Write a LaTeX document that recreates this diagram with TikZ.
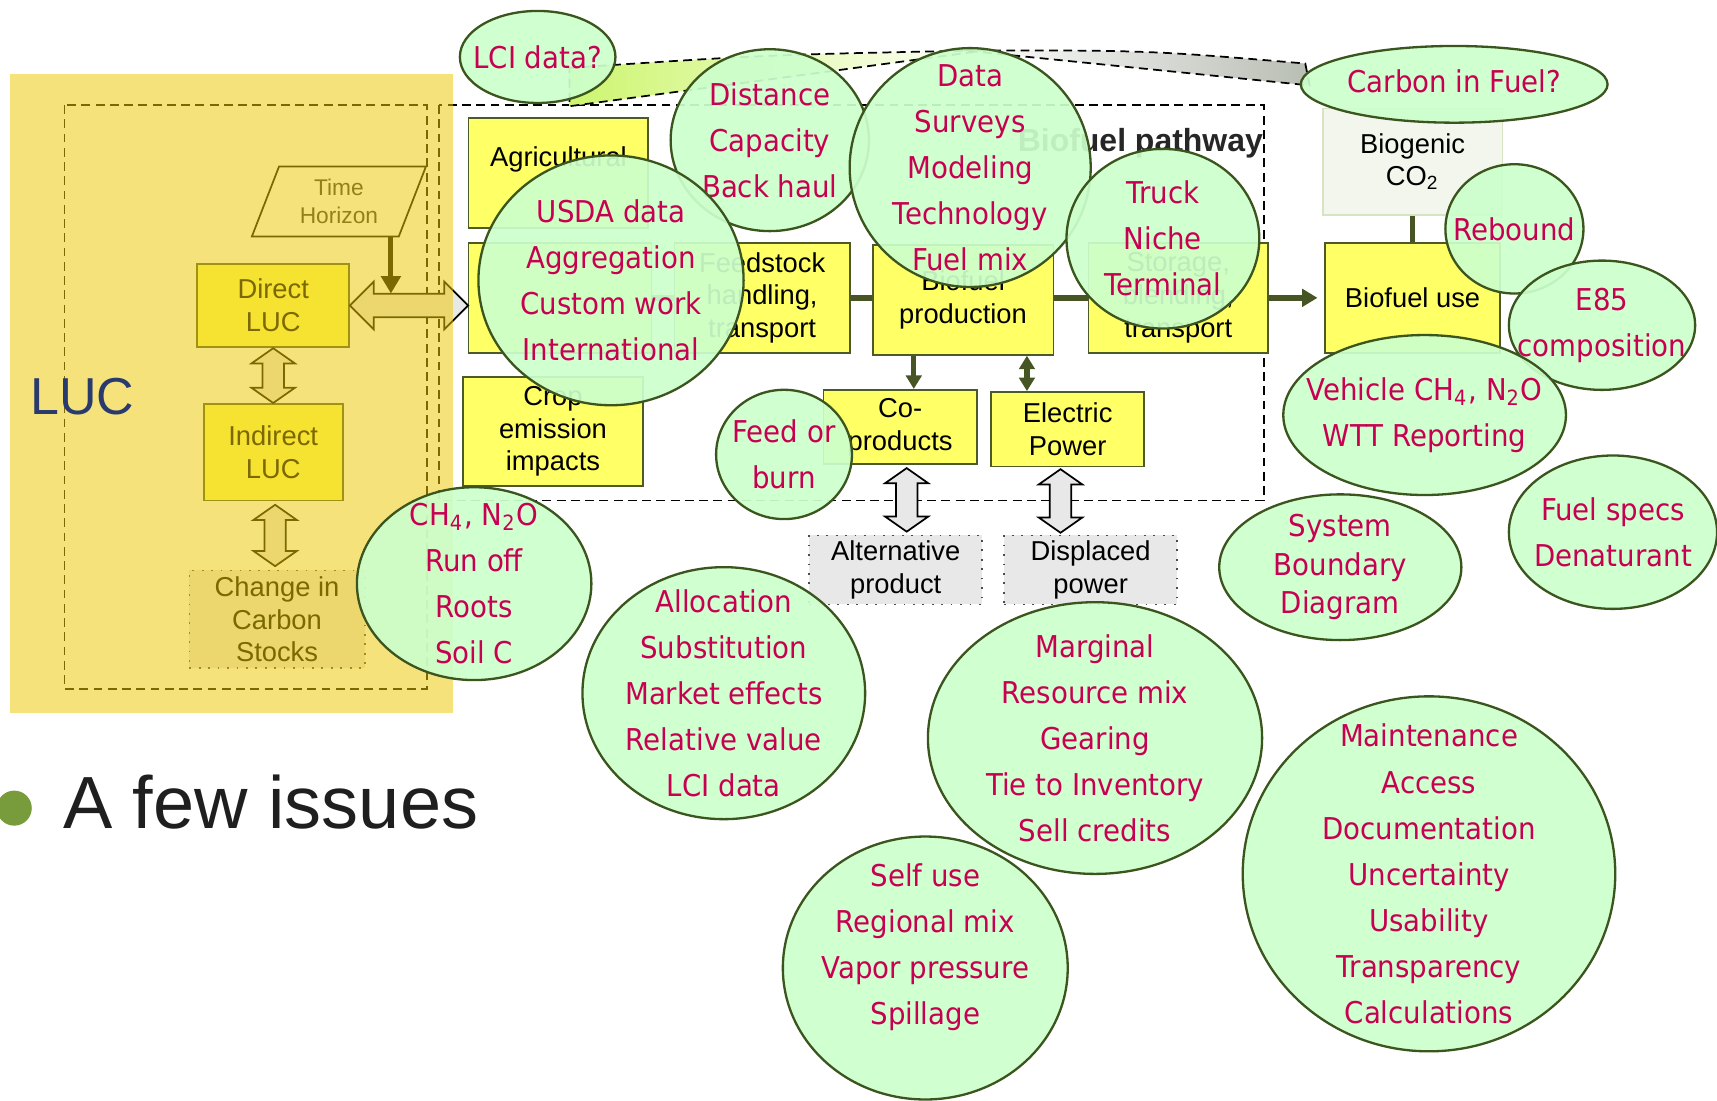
\documentclass[tikz,border=0pt]{standalone}
\usepackage{fontspec}
\setmainfont{Liberation Sans}
\newfontfamily\issuefont[FakeStretch=0.92]{DejaVu Sans}
\usetikzlibrary{shapes.geometric,shapes.arrows,arrows.meta,calc}

\definecolor{boxfill}{RGB}{255,255,102}
\definecolor{boxline}{RGB}{75,90,40}
\definecolor{flowline}{RGB}{70,85,35}
\definecolor{altfill}{RGB}{232,232,232}
\definecolor{lucwash}{RGB}{238,200,0}
\definecolor{lucblue}{RGB}{40,58,110}
\definecolor{bubblefill}{RGB}{204,255,204}
\definecolor{bubbleline}{RGB}{60,85,30}
\definecolor{issuered}{RGB}{200,0,82}
\definecolor{biofill}{RGB}{243,246,237}
\definecolor{bioline}{RGB}{215,228,195}
\definecolor{bulletgreen}{RGB}{120,155,60}
\definecolor{lcigreen}{RGB}{205,245,110}
\definecolor{carbongray}{RGB}{185,190,180}

\tikzset{
  stage/.style={draw=boxline, fill=boxfill, line width=0.45pt, align=center, inner sep=0pt,
    font=\fontsize{7.1}{8.5}\selectfont},
  altstage/.style={stage, draw=black!70, fill=altfill, dotted},
  dashframe/.style={draw=black, line width=0.45pt, dash pattern=on 2.3pt off 1.4pt},
  pathflow/.style={draw=flowline, line width=1.4pt},
  fatarrow/.style={double arrow, draw=black, fill=altfill, line width=0.45pt, inner xsep=0pt,
    inner ysep=0.09cm, minimum width=0pt, double arrow head extend=0.1cm, double arrow tip angle=110},
  bubble/.style={ellipse, draw=bubbleline, line width=0.6pt, fill=bubblefill, fill opacity=0.92, inner sep=0pt},
  issue/.style={text=issuered, align=center, inner sep=0pt, font=\issuefont\fontsize{7.8}{11.95}\selectfont}
}

\begin{document}
\begin{tikzpicture}[x=0.01cm, y=-0.01cm]
\useasboundingbox (0,0) rectangle (1568,1005);

% Draws the dashed frame of the biofuel pathway and its title
\draw[dashframe] (401,96) rectangle (1154,457);
\node[anchor=east, inner sep=0pt, font=\bfseries\fontsize{8.3}{10}\selectfont, text=black!85] (pathtitle) at (1154,131) {Biofuel pathway};

% Draws the stages of the pathway
\node[stage, minimum width=1.64cm, minimum height=1cm] (agri) at (510,158) {Agricultural\\~};
\node[stage, minimum width=1.67cm, minimum height=1cm] (farm) at (511.5,272) {};
\node[stage, minimum width=1.60cm, minimum height=1cm] (feed) at (696,272) {Feedstock\\handling,\\transport};
\node[stage, minimum width=1.64cm, minimum height=1cm] (crop) at (505,394) {Crop\\emission\\impacts};
\node[stage, minimum width=1.65cm, minimum height=1cm] (prod) at (879.5,274) {Biofuel\\production};
\node[stage, minimum width=1.64cm, minimum height=1cm] (stor) at (1076,272) {Storage,\\blending,\\transport};
\node[stage, minimum width=1.60cm, minimum height=1cm] (use) at (1290,272) {Biofuel use};
\node[stage, draw=bioline, fill=biofill, minimum width=1.64cm, minimum height=0.97cm] (bio) at (1290,147.5) {Biogenic\\CO\textsubscript{2}};
\node[stage, minimum width=1.40cm, minimum height=0.68cm] (copro) at (822,390) {Co-\\products};
\node[stage, minimum width=1.40cm, minimum height=0.68cm] (elec) at (975,392) {Electric\\Power};
\node[altstage, minimum width=1.58cm, minimum height=0.63cm] (alt) at (818,520.5) {Alternative\\product};
\node[altstage, minimum width=1.58cm, minimum height=0.63cm] (disp) at (996,520.5) {Displaced\\power};

% Links the stages along the main line
\draw[pathflow] (farm.east) -- (farm.east -| feed.west);
\draw[pathflow] (feed.east) -- (feed.east -| prod.west);
\draw[pathflow] (stor.west -| prod.east) -- (stor.west);
\draw[pathflow, -{Triangle[length=4pt,width=4.5pt]}] (stor.east) -- ($(stor.east -| use.west)+(-6,0)$);
\draw[pathflow] (bio.south) -- (use.north);
\coordinate (cotap) at ($(prod.south west)!0.23!(prod.south east)$);
\coordinate (eltap) at ($(prod.south west)!0.85!(prod.south east)$);
\draw[pathflow, -{Triangle[length=3.5pt,width=4pt]}] (cotap) -- (cotap |- copro.north);
\draw[pathflow, {Triangle[length=3.5pt,width=4pt]}-{Triangle[length=3.5pt,width=4pt]}] (eltap) -- (eltap |- elec.north);
\node[fatarrow, rotate=90, minimum height=0.58cm] (cofat) at ($(copro.south)!0.5!(alt.north)+(8,0)$) {};
\node[fatarrow, rotate=90, minimum height=0.58cm] (elfat) at ($(elec.south)!0.5!(disp.north)+(-17,0)$) {};

% Draws the land use change boxes, washed over by the LUC panel below
\draw[dashframe] (59,96) rectangle (390,629);
\node[stage, minimum width=1.39cm, minimum height=0.76cm] (dluc) at (249.5,279) {Direct\\LUC};
\node[stage, minimum width=1.27cm, minimum height=0.88cm] (iluc) at (249.5,413) {Indirect\\LUC};
\node[altstage, minimum width=1.60cm, minimum height=0.89cm] (cstock) at (253,565.5) {Change in\\Carbon\\Stocks};
\node[stage, trapezium, trapezium left angle=68, trapezium right angle=112, trapezium stretches=true,
  draw=black, fill=white, text=black!80, minimum width=1.59cm, minimum height=0.64cm,
  font=\fontsize{5.9}{7.1}\selectfont] (horizon) at (309.5,184) {Time\\Horizon};
\node[fatarrow, rotate=90, minimum height=0.50cm] (dlucfat) at ($(dluc.south)!0.5!(iluc.north)$) {};
\node[fatarrow, rotate=90, minimum height=0.56cm] (ilucfat) at ($(iluc.south)!0.5!(cstock.north)$) {};
\node[fatarrow, minimum height=1.08cm, inner ysep=0.1cm, double arrow head extend=0.11cm,
  double arrow tip angle=90] (farmfat) at ($(dluc.east)!0.5!(dluc.east -| farm.west)$) {};
\coordinate (horizonfoot) at (357,268);
\draw[-{Triangle[length=4.5pt,width=5pt]}, line width=1.3pt] (horizon.south -| horizonfoot) -- (horizonfoot);

% The LUC panel
\fill[lucwash, fill opacity=0.52] (9,68) rectangle (414,651);
\node[font=\fontsize{13.5}{16}\selectfont, text=lucblue] (luc) at (75,362) {LUC};

% Bullet line
\node[circle, fill=bulletgreen, minimum size=0.32cm, inner sep=0pt] (dot) at (13,738) {};
\node[anchor=base west, inner sep=0pt, font=\fontsize{19.2}{23}\selectfont, text=black!88] (issues) at (57,757) {A few issues};

% Callout tails of the two questions at the top
\draw[dashframe, left color=lcigreen, right color=white] (520,62) .. controls (700,50) .. (900,46) -- (520,97) -- cycle;
\draw[dashframe, left color=white, right color=carbongray] (880,46) .. controls (1050,46) .. (1192,58) -- (1196,78) -- cycle;

% Draws the issue bubbles
\node[bubble, minimum width=1.42cm, minimum height=0.84cm] (lci) at (491,52) {};
\node[issue] at (lci) {LCI data?};
\node[bubble, minimum width=2.80cm, minimum height=0.70cm] (carbon) at (1328,77) {};
\node[issue] at ($(carbon)+(0,-3)$) {Carbon in Fuel?};
\node[bubble, minimum width=1.81cm, minimum height=1.66cm] (haul) at (703,128) {};
\node[issue] at (haul) {Distance\\Capacity\\Back haul};
\node[bubble, minimum width=2.20cm, minimum height=2.18cm] (surveys) at (886,153) {};
\node[issue] at (surveys) {Data\\Surveys\\Modeling\\Technology\\Fuel mix};
\node[bubble, minimum width=2.42cm, minimum height=2.28cm] (usda) at (558,256) {};
\node[issue] at (usda) {USDA data\\Aggregation\\Custom work\\International};
\node[bubble, minimum width=1.76cm, minimum height=1.64cm] (truck) at (1062,218) {};
\node[issue] at (truck) {Truck\\Niche\\Terminal};
\node[bubble, minimum width=1.26cm, minimum height=1.18cm] (rebound) at (1383,209) {};
\node[issue] at (rebound) {Rebound};
\node[bubble, minimum width=1.70cm, minimum height=1.18cm] (blend) at (1463,297) {};
\node[issue] at (blend) {E85\\composition};
\node[bubble, minimum width=2.58cm, minimum height=1.46cm] (vehicle) at (1301,379) {};
\node[issue] at (vehicle) {Vehicle CH\textsubscript{4}, N\textsubscript{2}O\\WTT Reporting};
\node[bubble, minimum width=1.24cm, minimum height=1.18cm] (feedburn) at (716,415) {};
\node[issue] at (feedburn) {Feed or\\burn};
\node[bubble, minimum width=2.14cm, minimum height=1.76cm] (soil) at (433,533) {};
\node[issue] at (soil) {CH\textsubscript{4}, N\textsubscript{2}O\\Run off\\Roots\\Soil C};
\node[bubble, minimum width=2.21cm, minimum height=1.33cm] (boundary) at (1224,518) {};
\node[issue, font=\issuefont\fontsize{7.8}{10}\selectfont] at (boundary) {System\\Boundary\\Diagram};
\node[bubble, minimum width=1.90cm, minimum height=1.40cm] (specs) at (1473,486) {};
\node[issue] at (specs) {Fuel specs\\Denaturant};
\node[bubble, minimum width=2.58cm, minimum height=2.30cm] (alloc) at (661,633) {};
\node[issue] at (alloc) {Allocation\\Substitution\\Market effects\\Relative value\\LCI data};
\node[bubble, minimum width=3.05cm, minimum height=2.48cm] (marginal) at (1000,674) {};
\node[issue] at (marginal) {Marginal\\Resource mix\\Gearing\\Tie to Inventory\\Sell credits};
\node[bubble, minimum width=2.60cm, minimum height=2.40cm] (selfuse) at (845,884) {};
\node[issue] at ($(selfuse)+(0,-19)$) {Self use\\Regional mix\\Vapor pressure\\Spillage};
\node[bubble, minimum width=3.40cm, minimum height=3.24cm] (maint) at (1305,798) {};
\node[issue] at (maint) {Maintenance\\Access\\Documentation\\Uncertainty\\Usability\\Transparency\\Calculations};

\end{tikzpicture}
\end{document}
